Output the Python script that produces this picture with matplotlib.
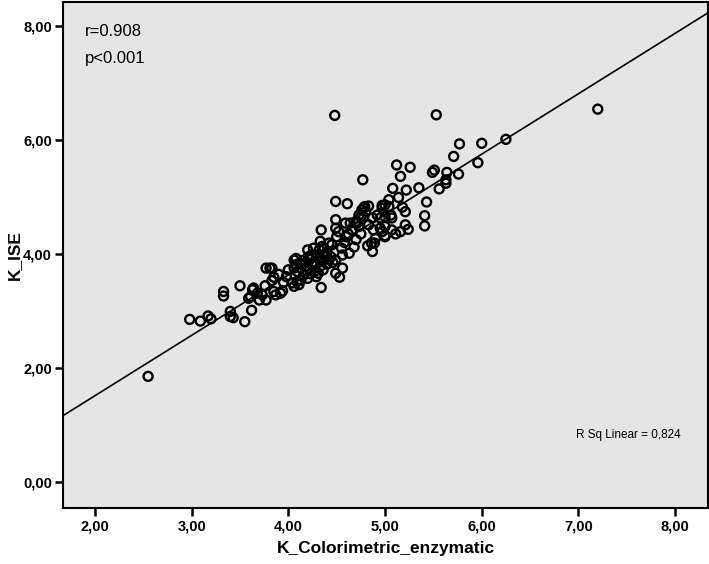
import numpy as np
import matplotlib
matplotlib.use('Agg')
import matplotlib.pyplot as plt

plt.rcParams['font.family'] = ['Liberation Sans', 'DejaVu Sans']

# valores (K colorimetrico vs K ISE)
k_color = [2.55, 2.98, 3.09, 3.17, 3.20, 3.33, 3.33, 3.50, 3.40, 3.40,
           3.43, 3.55, 3.62, 3.61, 3.63, 3.59, 3.68, 3.73, 3.70, 3.77,
           3.64, 3.76, 3.77, 3.81, 3.83, 3.90, 3.85, 3.83, 3.85, 3.87,
           3.92, 3.94, 4.04, 4.06, 4.09, 4.11, 4.13, 4.34, 4.06, 4.08,
           4.06, 4.09, 4.13, 4.16, 4.20, 4.18, 4.21, 4.20, 4.26, 4.32,
           4.33, 4.37, 4.22, 4.25, 4.28, 4.30, 4.27, 4.33, 4.35, 4.38,
           4.40, 4.31, 4.24, 4.36, 4.42, 4.29, 4.19, 4.23, 4.46, 4.40,
           4.49, 4.61, 4.49, 4.34, 4.64, 4.70, 4.75, 4.76, 4.79, 4.52,
           4.50, 4.42, 4.35, 4.45, 4.63, 4.08, 4.12, 4.16, 4.21, 4.25,
           4.32, 4.39, 4.44, 4.49, 4.56, 4.53, 4.49, 4.56, 4.48, 5.53,
           5.77, 6.00, 6.25, 5.71, 5.96, 5.76, 5.64, 5.63, 5.56, 5.51,
           5.49, 5.43, 5.41, 5.41, 5.12, 5.26, 5.16, 5.08, 5.22, 5.35,
           5.14, 5.18, 4.77, 4.78, 4.83, 4.97, 5.00, 5.04, 5.11, 5.24,
           5.00, 4.89, 4.87, 4.82, 7.20, 5.04, 4.97, 4.80, 4.73, 4.78,
           4.87, 4.92, 4.95, 5.00, 5.06, 5.07, 5.21, 5.16, 5.21, 4.49,
           4.66, 4.73, 4.83, 4.88, 4.95, 5.00, 4.97, 5.07, 5.63, 4.60,
           4.70, 4.58, 4.68, 4.55, 4.75, 4.62, 4.90, 5.00, 4.86, 4.59,
           4.71, 3.98, 4.00, 3.95]
k_ise = [1.85, 2.85, 2.82, 2.91, 2.86, 3.34, 3.26, 3.44, 2.99, 2.90,
         2.88, 2.81, 3.01, 3.25, 3.37, 3.22, 3.31, 3.28, 3.19, 3.19,
         3.40, 3.44, 3.75, 3.75, 3.75, 3.64, 3.59, 3.53, 3.34, 3.28,
         3.31, 3.35, 3.49, 3.43, 3.51, 3.46, 3.54, 3.41, 3.89, 3.81,
         3.75, 3.69, 3.75, 3.63, 3.57, 3.84, 3.75, 4.07, 4.10, 4.07,
         4.22, 4.10, 3.90, 3.80, 3.70, 3.95, 3.86, 3.78, 3.88, 3.97,
         3.82, 3.66, 3.98, 3.72, 3.90, 3.60, 3.70, 3.65, 3.85, 4.03,
         4.60, 4.88, 4.92, 4.42, 4.54, 4.57, 4.65, 4.77, 4.83, 4.39,
         4.30, 4.19, 4.13, 4.16, 4.01, 3.92, 3.84, 3.89, 3.95, 3.84,
         3.92, 4.01, 3.95, 3.89, 3.98, 3.59, 3.66, 3.75, 6.43, 6.44,
         5.93, 5.94, 6.01, 5.71, 5.60, 5.40, 5.43, 5.30, 5.14, 5.47,
         5.43, 4.91, 4.67, 4.49, 5.56, 5.52, 5.36, 5.15, 5.12, 5.16,
         4.99, 4.82, 5.30, 4.81, 4.84, 4.85, 4.86, 4.83, 4.35, 4.43,
         4.32, 4.19, 4.04, 4.14, 6.54, 4.95, 4.80, 4.74, 4.68, 4.65,
         4.63, 4.68, 4.63, 4.65, 4.68, 4.63, 4.74, 4.39, 4.51, 4.45,
         4.42, 4.48, 4.51, 4.42, 4.45, 4.48, 4.39, 4.42, 5.24, 4.30,
         4.25, 4.20, 4.12, 4.10, 4.35, 4.35, 4.27, 4.30, 4.19, 4.54,
         4.54, 3.60, 3.72, 3.50]

# recta de ajuste
pendiente = 1.06
intercepto = -0.61

xticks = [2, 3, 4, 5, 6, 7, 8]
yticks = [0, 2, 4, 6, 8]

fig = plt.figure(figsize=(7.09, 5.64), dpi=100)
ax = fig.add_axes([63 / 709, 1 - 508 / 564, 645 / 709, 506 / 564])
ax.set_facecolor('#e5e5e5')

ax.scatter(k_color, k_ise, s=42, facecolors='none', edgecolors='black',
           linewidths=1.7, zorder=3)

xlim = (1.67, 8.34)
xs = np.array(xlim)
ax.plot(xs, pendiente * xs + intercepto, color='black', lw=1.2, zorder=2)

ax.set_xlim(*xlim)
ax.set_ylim(-0.46, 8.42)
ax.set_xticks(xticks)
ax.set_yticks(yticks)
ax.set_xticklabels([f'{v:.2f}'.replace('.', ',') for v in xticks])
ax.set_yticklabels([f'{v:.2f}'.replace('.', ',') for v in yticks])
ax.tick_params(direction='out', length=6, width=1.8, labelsize=10.5, pad=2)
for lab in ax.get_xticklabels() + ax.get_yticklabels():
    lab.set_fontweight('bold')
for s in ax.spines.values():
    s.set_linewidth(1.5)
    s.set_color('black')

ax.set_xlabel('K_Colorimetric_enzymatic', fontsize=12.5, fontweight='bold', labelpad=6)
ax.set_ylabel('K_ISE', fontsize=12.5, fontweight='bold', labelpad=1)

ax.text(0.034, 0.933, 'r=0.908', transform=ax.transAxes, fontsize=12)
ax.text(0.034, 0.879, 'p<0.001', transform=ax.transAxes, fontsize=12)
ax.text(0.958, 0.144, 'R Sq Linear = 0,824', transform=ax.transAxes,
        fontsize=8.5, ha='right', va='center')

fig.savefig('out.png', dpi=100)
